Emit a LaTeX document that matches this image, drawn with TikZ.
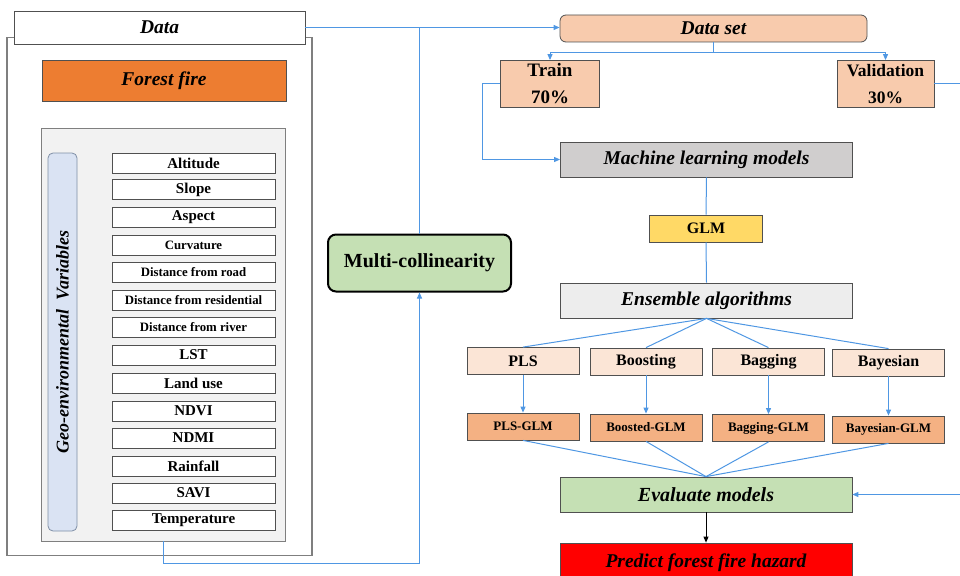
\documentclass[tikz,border=0pt]{standalone}
\usepackage{fontspec}
\setmainfont{Liberation Serif}
\usetikzlibrary{arrows.meta}
\definecolor{lblue}{HTML}{4F97E3}
\definecolor{bgray}{HTML}{505050}
\definecolor{ogray}{HTML}{7F7F7F}
\definecolor{forange}{HTML}{ED7D31}
\definecolor{panelg}{HTML}{F2F2F2}
\definecolor{geob}{HTML}{DAE3F3}
\definecolor{geod}{HTML}{7F8FA6}
\definecolor{peach}{HTML}{F8CBAD}
\definecolor{mlgray}{HTML}{D0CECE}
\definecolor{glmy}{HTML}{FFD966}
\definecolor{ensg}{HTML}{EDEDED}
\definecolor{lpeach}{HTML}{FBE5D6}
\definecolor{dpeach}{HTML}{F4B183}
\definecolor{lgreen}{HTML}{C5E0B4}
\begin{document}
\begin{tikzpicture}[x=1pt,y=-1pt,
 box/.style={draw=bgray, line width=0.8pt, inner sep=0pt, text=black},
 hd/.style={font=\fontsize{19.5}{22}\selectfont\bfseries\itshape},
 varbox/.style={box, fill=white, minimum width=163pt, minimum height=20pt, font=\fontsize{15}{17}\selectfont\bfseries},
 smallvar/.style={font=\fontsize{12.8}{14}\selectfont\bfseries},
 algo/.style={box, fill=lpeach, minimum width=112pt, minimum height=27pt, font=\fontsize{16}{18}\selectfont\bfseries},
 galgo/.style={box, fill=dpeach, minimum width=112pt, minimum height=27pt, font=\fontsize{13}{15}\selectfont\bfseries},
 wide/.style={box, minimum width=292pt, minimum height=35pt, hd},
 flow/.style={draw=lblue, line width=1pt},
 arr/.style={flow, -{Triangle[length=6pt,width=5pt]}},
]
\useasboundingbox (0,0) rectangle (960,575);

% left data block
\node[draw=ogray, line width=1.2pt, minimum width=305pt, minimum height=518pt, inner sep=0pt] (outer) at (159.5,296.5) {};
\node[box, fill=white, minimum width=291pt, minimum height=33pt, hd] (data) at (159.5,27.5) {Data};
\node[box, fill=forange, minimum width=244pt, minimum height=41pt, hd] (forest) at (164,80.5) {Forest fire};
\node[draw=ogray, fill=panelg, line width=0.8pt, minimum width=244pt, minimum height=413pt, inner sep=0pt] (panel) at (163,334.5) {};
\node[draw=geod, fill=geob, line width=0.8pt, rounded corners=5pt, rotate=90, minimum width=378pt, minimum height=29pt, inner sep=0pt, font=\fontsize{18}{20}\selectfont\bfseries\itshape] (geo) at (62.5,342) {Geo-environmental\ \ Variables};

\node[varbox] (v1) at (193.5,163) {Altitude};
\node[varbox] (v2) at (193.5,189.5) {Slope};
\node[varbox] (v3) at (193.5,217) {Aspect};
\node[varbox, smallvar] (v4) at (193.5,245) {Curvature};
\node[varbox, smallvar] (v5) at (193.5,272) {Distance from road};
\node[varbox, smallvar] (v6) at (193.5,300) {Distance from residential};
\node[varbox, smallvar] (v7) at (193.5,327) {Distance from river};
\node[varbox] (v8) at (193.5,355) {LST};
\node[varbox] (v9) at (193.5,383) {Land use};
\node[varbox] (v10) at (193.5,411) {NDVI};
\node[varbox] (v11) at (193.5,438) {NDMI};
\node[varbox] (v12) at (193.5,466) {Rainfall};
\node[varbox] (v13) at (193.5,493) {SAVI};
\node[varbox] (v14) at (193.5,520) {Temperature};

% multi-collinearity
\node[draw=black, line width=2pt, fill=lgreen, rounded corners=8pt, minimum width=183pt, minimum height=57pt, inner sep=0pt, font=\fontsize{20}{22}\selectfont\bfseries] (multi) at (419.5,263) {Multi-collinearity};

% right flow
\node[box, fill=peach, rounded corners=6pt, minimum width=307pt, minimum height=27pt, hd] (dataset) at (713.5,28.5) {Data set};
\node[box, fill=peach, minimum width=99pt, minimum height=47pt, align=center, font=\fontsize{19}{27}\selectfont\bfseries] (train) at (550,84) {Train\\70\%};
\node[box, fill=peach, minimum width=97pt, minimum height=47pt, align=center, font=\fontsize{17.5}{27}\selectfont\bfseries] (valid) at (885.5,84) {Validation\\30\%};
\node[wide, fill=mlgray] (ml) at (706.5,159.5) {Machine learning models};
\node[box, fill=glmy, minimum width=113pt, minimum height=27pt, font=\fontsize{16}{18}\selectfont\bfseries] (glm) at (706,228.5) {GLM};
\node[wide, fill=ensg] (ens) at (706.5,300.5) {Ensemble algorithms};

\node[algo] (pls) at (523,361) {PLS};
\node[algo] (boost) at (646,361.5) {Boosting};
\node[algo] (bag) at (768.5,361.5) {Bagging};
\node[algo] (bay) at (888.5,362.5) {Bayesian};

\node[galgo] (plsglm) at (523,426.5) {PLS-GLM};
\node[galgo] (boostglm) at (646,427.5) {Boosted-GLM};
\node[galgo] (bagglm) at (768.5,428) {Bagging-GLM};
\node[galgo] (bayglm) at (888.5,429.5) {Bayesian-GLM};

\node[wide, fill=lgreen, font=\fontsize{20}{22}\selectfont\bfseries\itshape] (eval) at (706,494.5) {Evaluate models};
\node[wide, fill=red, minimum height=40pt] (predict) at (706,563) {Predict forest fire hazard};

% connectors
\draw[arr] (data.east) -- (data.east -| dataset.west);
\draw[flow] (multi.north) -- (multi.north |- data.east);
\draw[arr] (panel.south) -- ++(0,22) -| (multi.south);
\draw[arr] (dataset.south) -- ++(0,10) -| (train.north);
\draw[arr] (dataset.south) -- ++(0,10) -| (valid.north);
\draw[arr] (train.west) -- ++(-18,0) |- (ml.west);
\coordinate (offr) at (975,84);
\draw[arr] (valid.east) -- (offr) |- (eval.east);
\draw[flow] (ml.south) -- (glm.north);
\draw[flow] (glm.south) -- (ens.north);
\foreach \n in {pls,boost,bag,bay} \draw[flow] (ens.south) -- (\n.north);
\draw[arr] (pls.south) -- (plsglm.north);
\draw[arr] (boost.south) -- (boostglm.north);
\draw[arr] (bag.south) -- (bagglm.north);
\draw[arr] (bay.south) -- (bayglm.north);
\foreach \n in {plsglm,boostglm,bagglm,bayglm} \draw[flow] (\n.south) -- (eval.north);
\draw[black, line width=0.9pt, -{Triangle[length=6pt,width=5pt]}] (eval.south) -- (predict.north);
\end{tikzpicture}
\end{document}
